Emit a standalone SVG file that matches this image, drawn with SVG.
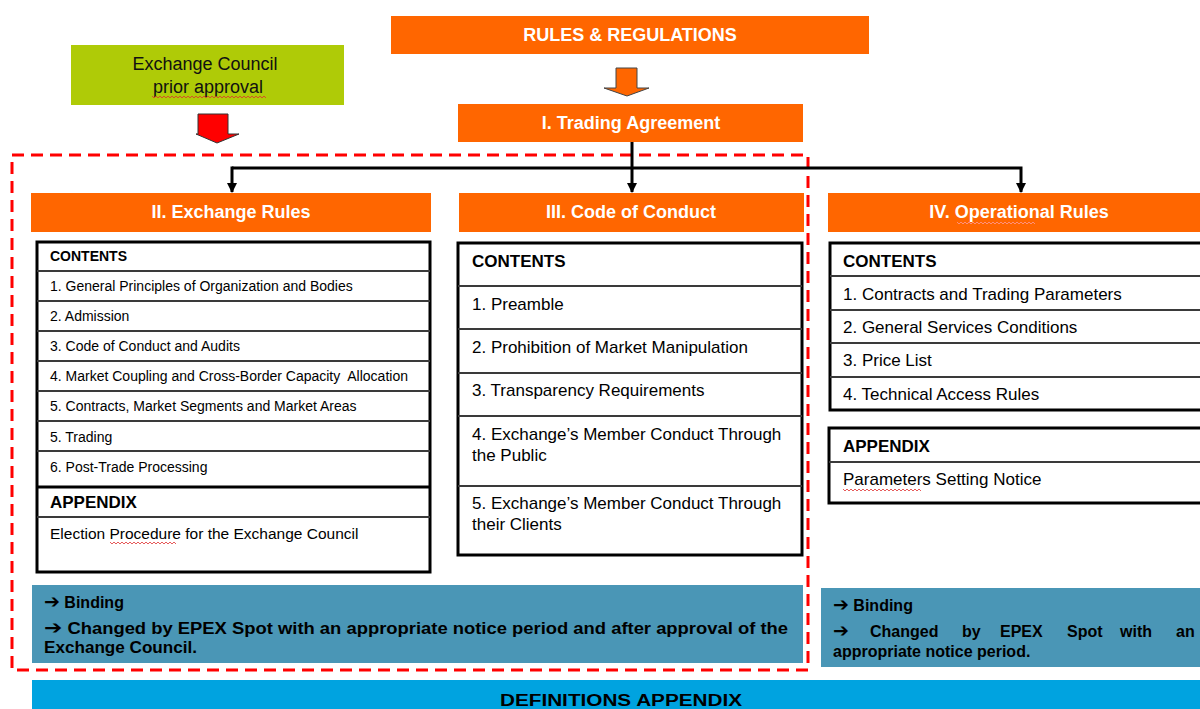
<svg xmlns="http://www.w3.org/2000/svg" width="1200" height="709" viewBox="0 0 1200 709">
<defs>
<style>
.t{font-family:"Liberation Sans",Arial,sans-serif;}
.hd{fill:#FF6600;}
.hdt{font-family:"Liberation Sans",Arial,sans-serif;font-weight:bold;font-size:18px;fill:#FFFFFF;text-anchor:middle;}
.outer{fill:#FFFFFF;stroke:#000000;stroke-width:3;}
.row{stroke:#3a3a3a;stroke-width:2;fill:none;}
.sm{font-family:"Liberation Sans",Arial,sans-serif;font-size:14px;fill:#000;white-space:pre;}
.md{font-family:"Liberation Sans",Arial,sans-serif;font-size:17px;fill:#000;}
.bsm{font-family:"Liberation Sans",Arial,sans-serif;font-size:14px;font-weight:bold;fill:#000;}
.bmd{font-family:"Liberation Sans",Arial,sans-serif;font-size:17px;font-weight:bold;fill:#000;}
.bind{fill:#4A96B6;}
.bt{font-family:"Liberation Sans",Arial,sans-serif;font-size:16px;font-weight:bold;fill:#000;}
.ar{font-family:"DejaVu Sans",sans-serif;font-weight:bold;font-size:19px;}
.conn{stroke:#000;stroke-width:3;fill:none;}
.sq{stroke:#E03030;stroke-width:0.8;fill:none;}
</style>
<marker id="ah" markerWidth="10" markerHeight="10" refX="9" refY="5" orient="auto" markerUnits="userSpaceOnUse">
<path d="M0,0 L10,5 L0,10 Z" fill="#000"/>
</marker>
</defs>
<rect width="1200" height="709" fill="#FFFFFF"/>

<!-- Exchange Council -->
<g id="exchange-council">
<rect x="71" y="45" width="273" height="60" fill="#AFCB07"/>
<text class="t" x="205" y="70" font-size="18" text-anchor="middle" fill="#111">Exchange Council</text>
<text class="t" x="208" y="93" font-size="18" text-anchor="middle" fill="#111">prior approval</text>
<path class="sq" d="M152,96 l2,2 l2,-2 l2,2 l2,-2 l2,2 l2,-2 l2,2 l2,-2 l2,2 l2,-2 l2,2 l2,-2 l2,2 l2,-2 l2,2 l2,-2 l2,2 l2,-2 l2,2 l2,-2 l2,2 l2,-2 l2,2 l2,-2 l2,2 l2,-2 l2,2 l2,-2 l2,2 l2,-2 l2,2 l2,-2 l2,2 l2,-2 l2,2 l2,-2 l2,2 l2,-2 l2,2 l2,-2 l2,2 l2,-2 l2,2 l2,-2 l2,2 l2,-2 l2,2 l2,-2 l2,2 l2,-2 l2,2 l2,-2 l2,2 l2,-2 l2,2 l2,-2 l2,2"/>
</g>
<g id="red-arrow">
<path d="M198,114 L228,114 L228,134 L239,134 L217,143 L196,134 L198,134 Z" fill="#FF0000" stroke="#333" stroke-width="1"/>
</g>

<!-- Rules & Regulations -->
<g id="rules-regulations">
<rect x="391" y="16" width="478" height="38" class="hd"/>
<text class="hdt" x="630" y="41">RULES &amp; REGULATIONS</text>
</g>
<g id="orange-arrow">
<path d="M616,68 L637,68 L637,88 L649,88 L627,96 L604,88 L616,88 Z" fill="#FF6600" stroke="#444" stroke-width="1"/>
</g>

<!-- Trading Agreement -->
<g id="trading-agreement">
<rect x="458" y="104" width="345" height="38" class="hd"/>
<text class="hdt" x="631" y="129">I. Trading Agreement</text>
</g>

<!-- dashed boundary -->
<g id="approval-boundary">
<rect x="12" y="155" width="796" height="515" fill="none" stroke="#FF0000" stroke-width="3" stroke-dasharray="12,7"/>
</g>

<!-- connectors -->
<g id="connectors">
<path class="conn" d="M632,142 L632,192" marker-end="url(#ah)"/>
<path class="conn" d="M232,168 L1021,168 L1021,192" marker-end="url(#ah)"/>
<path class="conn" d="M232,166.5 L232,192" marker-end="url(#ah)"/>
</g>

<!-- II. Exchange Rules -->
<g id="exchange-rules">
<rect x="31" y="193" width="400" height="39" class="hd"/>
<text class="hdt" x="231" y="218">II. Exchange Rules</text>
<rect x="37" y="242" width="393" height="330" class="outer"/>
<path class="row" d="M37,271 H430 M37,301 H430 M37,331 H430 M37,361 H430 M37,391 H430 M37,421 H430 M37,451 H430 M37,517 H430"/>
<path d="M37,487 H430" stroke="#000" stroke-width="3"/>
<text class="bsm" x="50" y="261">CONTENTS</text>
<text class="sm" x="50" y="291">1. General Principles of Organization and Bodies</text>
<text class="sm" x="50" y="321">2. Admission</text>
<text class="sm" x="50" y="351">3. Code of Conduct and Audits</text>
<text class="sm" x="50" y="381">4. Market Coupling and Cross-Border Capacity  Allocation</text>
<text class="sm" x="50" y="411">5. Contracts, Market Segments and Market Areas</text>
<text class="sm" x="50" y="442">5. Trading</text>
<text class="sm" x="50" y="472">6. Post-Trade Processing</text>
<text class="bmd" x="50" y="508" font-size="15">APPENDIX</text>
<text class="t" x="50" y="539" font-size="15.5" fill="#000">Election Procedure for the Exchange Council</text>
<path class="sq" d="M110,542 l2,2 l2,-2 l2,2 l2,-2 l2,2 l2,-2 l2,2 l2,-2 l2,2 l2,-2 l2,2 l2,-2 l2,2 l2,-2 l2,2 l2,-2 l2,2 l2,-2 l2,2 l2,-2 l2,2 l2,-2 l2,2 l2,-2 l2,2 l2,-2 l2,2 l2,-2 l2,2 l2,-2 l2,2 l2,-2 l2,2"/>
</g>

<!-- III. Code of Conduct -->
<g id="code-of-conduct">
<rect x="459" y="193" width="345" height="39" class="hd"/>
<text class="hdt" x="631" y="218">III. Code of Conduct</text>
<rect x="458" y="243" width="344" height="312" class="outer"/>
<path class="row" d="M458,286 H802 M458,329 H802 M458,373 H802 M458,416 H802 M458,486 H802"/>
<text class="bmd" x="472" y="267">CONTENTS</text>
<text class="md" x="472" y="310">1. Preamble</text>
<text class="md" x="472" y="353">2. Prohibition of Market Manipulation</text>
<text class="md" x="472" y="396">3. Transparency Requirements</text>
<text class="md" x="472" y="440">4. Exchange’s Member Conduct Through</text>
<text class="md" x="472" y="461">the Public</text>
<text class="md" x="472" y="509">5. Exchange’s Member Conduct Through</text>
<text class="md" x="472" y="530">their Clients</text>
</g>

<!-- IV. Operational Rules -->
<g id="operational-rules">
<rect x="828" y="193" width="380" height="39" class="hd"/>
<text class="hdt" x="1019" y="218">IV. Operational Rules</text>
<path d="M957,222 l2,2 l2,-2 l2,2 l2,-2 l2,2 l2,-2 l2,2 l2,-2 l2,2 l2,-2 l2,2 l2,-2 l2,2 l2,-2 l2,2 l2,-2 l2,2 l2,-2 l2,2 l2,-2 l2,2 l2,-2 l2,2 l2,-2 l2,2 l2,-2 l2,2 l2,-2 l2,2 l2,-2 l2,2 l2,-2 l2,2 l2,-2 l2,2 l2,-2 l2,2 l2,-2 l2,2" stroke="#FF9999" stroke-width="0.8" fill="none"/>
<rect x="830" y="243" width="380" height="167" class="outer"/>
<path class="row" d="M830,276 H1210 M830,310 H1210 M830,343 H1210 M830,377 H1210"/>
<text class="bmd" x="843" y="267">CONTENTS</text>
<text class="md" x="843" y="300">1. Contracts and Trading Parameters</text>
<text class="md" x="843" y="333">2. General Services Conditions</text>
<text class="md" x="843" y="366">3. Price List</text>
<text class="md" x="843" y="400">4. Technical Access Rules</text>
</g>
<g id="operational-appendix">
<rect x="829" y="428" width="380" height="75" class="outer"/>
<path class="row" d="M829,462 H1210"/>
<text class="bmd" x="843" y="452">APPENDIX</text>
<text class="md" x="843" y="485">Parameters Setting Notice</text>
<path class="sq" d="M843,489 l2,2 l2,-2 l2,2 l2,-2 l2,2 l2,-2 l2,2 l2,-2 l2,2 l2,-2 l2,2 l2,-2 l2,2 l2,-2 l2,2 l2,-2 l2,2 l2,-2 l2,2 l2,-2 l2,2 l2,-2 l2,2 l2,-2 l2,2 l2,-2 l2,2 l2,-2 l2,2 l2,-2 l2,2 l2,-2 l2,2 l2,-2 l2,2 l2,-2 l2,2 l2,-2 l2,2"/>
</g>

<!-- Binding boxes -->
<g id="binding-left">
<rect x="32" y="585" width="771" height="78" class="bind"/>
<text class="bt" x="44" y="608"><tspan class="ar">➔</tspan> Binding</text>
<text class="bt" x="44" y="634" textLength="744" lengthAdjust="spacingAndGlyphs"><tspan class="ar">➔</tspan> Changed by EPEX Spot with an appropriate notice period and after approval of the</text>
<text class="bt" x="44" y="653" textLength="153" lengthAdjust="spacingAndGlyphs">Exchange Council.</text>
</g>
<g id="binding-right">
<rect x="821" y="588" width="390" height="79" class="bind"/>
<text class="bt" x="833" y="611" font-size="17"><tspan class="ar">➔</tspan> Binding</text>
<text class="bt" y="637" font-size="17"><tspan class="ar" x="833">➔</tspan><tspan x="870">Changed</tspan><tspan x="962">by</tspan><tspan x="1000">EPEX</tspan><tspan x="1067">Spot</tspan><tspan x="1120">with</tspan><tspan x="1176">an</tspan></text>
<text class="bt" x="833" y="657" font-size="17">appropriate notice period.</text>
</g>

<!-- Definitions appendix -->
<g id="definitions-appendix">
<rect x="32" y="680" width="1180" height="40" fill="#00A3E0"/>
<text class="bt" x="500" y="706" font-size="19" textLength="242" lengthAdjust="spacingAndGlyphs">DEFINITIONS APPENDIX</text>
</g>
</svg>
